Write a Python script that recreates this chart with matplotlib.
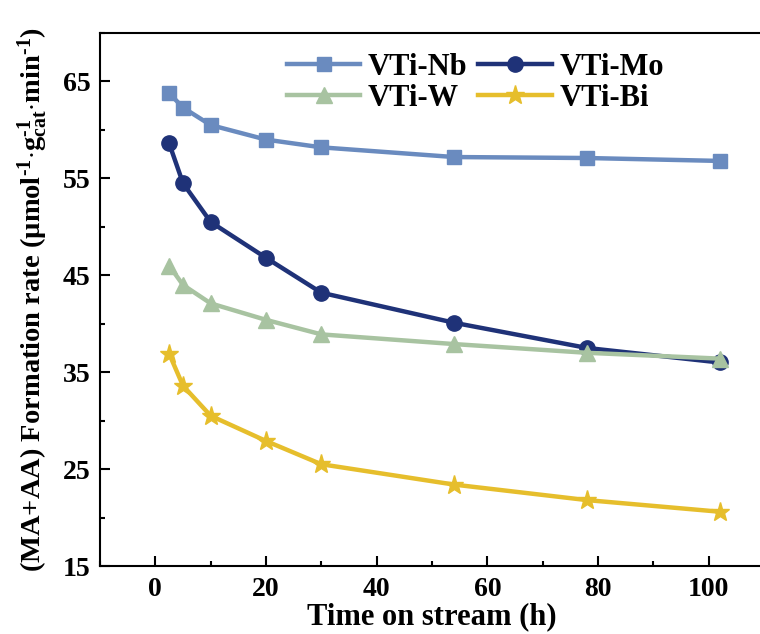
import matplotlib
matplotlib.use("Agg")
import matplotlib.pyplot as plt
from matplotlib.ticker import MultipleLocator

plt.rcParams['font.family'] = ['Liberation Serif', 'DejaVu Serif']
plt.rcParams['font.weight'] = 'bold'
plt.rcParams['mathtext.fontset'] = 'custom'
plt.rcParams['mathtext.rm'] = 'Liberation Serif:bold'
plt.rcParams['mathtext.it'] = 'Liberation Serif:italic:bold'
plt.rcParams['mathtext.bf'] = 'Liberation Serif:bold'

time_h = [2.5, 5, 10, 20, 30, 54, 78, 102]
vti_nb = [63.8, 62.3, 60.5, 59.0, 58.2, 57.2, 57.1, 56.8]
vti_mo = [58.6, 54.5, 50.5, 46.8, 43.2, 40.1, 37.5, 36.0]
vti_w = [46.0, 44.0, 42.1, 40.4, 38.9, 37.9, 37.0, 36.4]
vti_bi = [36.9, 33.6, 30.5, 27.9, 25.5, 23.4, 21.8, 20.6]

fig = plt.figure(figsize=(7.6, 6.34), dpi=100)
ax = fig.add_axes([100/760, 68/634, 664/760, 533/634])

l_nb, = ax.plot(time_h, vti_nb, color='#6A8BBF', lw=3.2, marker='s', ms=10, label='VTi-Nb')
l_mo, = ax.plot(time_h, vti_mo, color='#1F3278', lw=3.2, marker='o', ms=11, label='VTi-Mo')
l_w, = ax.plot(time_h, vti_w, color='#A8C3A1', lw=3.2, marker='^', ms=11, label='VTi-W')
l_bi, = ax.plot(time_h, vti_bi, color='#E6BE2C', lw=3.2, marker='*', ms=14, label='VTi-Bi')

ax.set_xlim(-10, 110)
ax.set_ylim(15, 70)
ax.xaxis.set_major_locator(MultipleLocator(20))
ax.xaxis.set_minor_locator(MultipleLocator(10))
ax.set_yticks([15, 25, 35, 45, 55, 65])
ax.yaxis.set_minor_locator(MultipleLocator(5))
ax.tick_params(which='both', direction='in', width=1.5, labelsize=20)
ax.tick_params(which='major', length=7)
ax.tick_params(which='minor', length=3.5)
ax.tick_params(axis='x', pad=8)
ax.tick_params(axis='y', pad=7)
for s in ax.spines.values():
    s.set_linewidth(1.5)
ax.spines['right'].set_visible(False)

ax.set_xlabel('Time on stream (h)', fontsize=22, fontweight='bold', labelpad=0)
ax.set_ylabel(r'(MA+AA) Formation rate (µmol$^{\text{-}1}$$\cdot$g$_{\mathrm{cat}}^{\text{-}1}$$\cdot$min$^{\text{-}1}$)',
              fontsize=20.5, fontweight='bold', labelpad=9)

leg = fig.legend([l_nb, l_w, l_mo, l_bi], ['VTi-Nb', 'VTi-W', 'VTi-Mo', 'VTi-Bi'],
                 ncol=2, loc='upper left', bbox_to_anchor=(287/760, 1 - 53/634),
                 frameon=False, fontsize=22, handlelength=2.4, columnspacing=0.35,
                 handletextpad=0.25, labelspacing=0.05, borderpad=0, borderaxespad=0)

fig.savefig('out.png', dpi=100)
